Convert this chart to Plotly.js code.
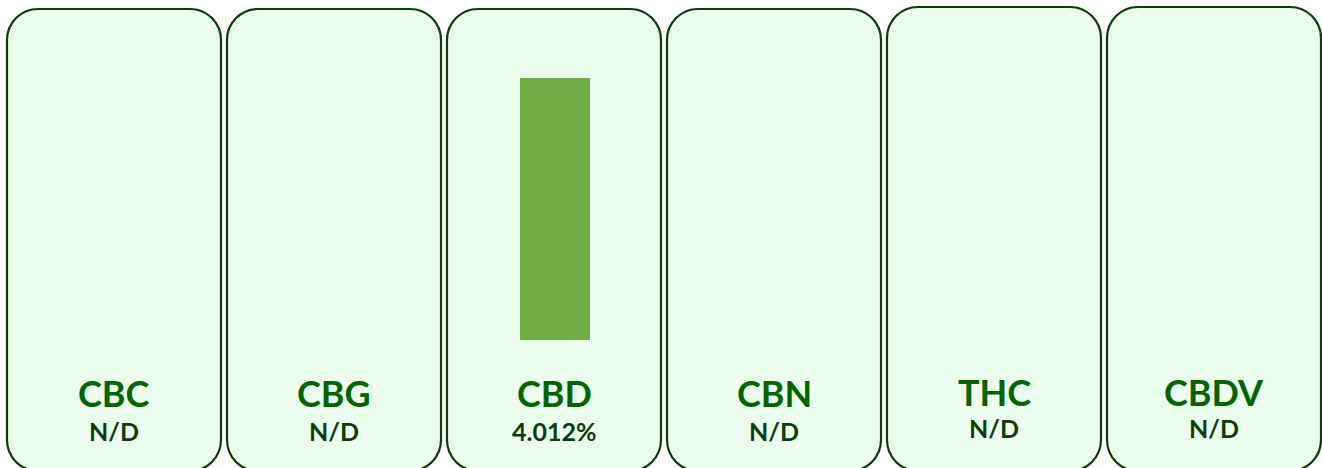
<!DOCTYPE html>
<html>
<head>
<meta charset="utf-8">
<script src="https://cdn.plot.ly/plotly-3.0.1.min.js"></script>
<style>
  html, body { margin: 0; padding: 0; background: #ffffff; }
  #chart { width: 1322px; height: 468px; }
</style>
</head>
<body>
<div id="chart"></div>
<script>
// ---- data ----
const categories = ['CBC', 'CBG', 'CBD', 'CBN', 'THC', 'CBDV'];
const values = [null, null, 4.012, null, null, null];   // percent, null = not detected
const valueLabels = values.map(v => v === null ? 'N/D' : v.toFixed(3) + '%');

// ---- layout constants (pixels) ----
const W = 1322, H = 468;
const panelLeft0 = 7, panelStep = 220, panelWidth = 214;
const panelTops = [9, 9, 9, 9, 7, 7];
const panelBottom = 471;
const radius = 31;

const FONT = 'Lato, "Open Sans", sans-serif';
const border = '#0b3d0b';
const fill = '#ecfdee';

function px(x) { return x / W; }
function py(y) { return 1 - y / H; }

function roundedPath(x0, y0, x1, y1, r) {
  const k = 0.5523 * r;
  const P = (x, y) => px(x).toFixed(5) + ',' + py(y).toFixed(5);
  return 'M' + P(x0 + r, y0) +
    ' L' + P(x1 - r, y0) +
    ' C' + P(x1 - r + k, y0) + ' ' + P(x1, y0 + r - k) + ' ' + P(x1, y0 + r) +
    ' L' + P(x1, y1 - r) +
    ' C' + P(x1, y1 - r + k) + ' ' + P(x1 - r + k, y1) + ' ' + P(x1 - r, y1) +
    ' L' + P(x0 + r, y1) +
    ' C' + P(x0 + r - k, y1) + ' ' + P(x0, y1 - r + k) + ' ' + P(x0, y1 - r) +
    ' L' + P(x0, y0 + r) +
    ' C' + P(x0, y0 + r - k) + ' ' + P(x0 + r - k, y0) + ' ' + P(x0 + r, y0) + ' Z';
}

const shapes = categories.map((c, i) => {
  const x0 = panelLeft0 + panelStep * i;
  return {
    type: 'path', xref: 'paper', yref: 'paper', layer: 'below',
    path: roundedPath(x0, panelTops[i], x0 + panelWidth, panelBottom, radius),
    fillcolor: fill,
    line: { color: border, width: 2.2 }
  };
});

const annotations = [];
categories.forEach((c, i) => {
  const shift = panelTops[i] - 9;
  annotations.push({
    x: c, xref: 'x', y: py(393 + shift * 0.5), yref: 'paper',
    text: '<b>' + c + '</b>', showarrow: false,
    xanchor: 'center', yanchor: 'middle',
    font: { family: FONT, size: 36, color: '#006400' }
  });
  annotations.push({
    x: c, xref: 'x', y: py(431 + shift * 1.5), yref: 'paper',
    text: '<b>' + valueLabels[i] + '</b>', showarrow: false,
    xanchor: 'center', yanchor: 'middle',
    font: { family: FONT, size: 25, color: '#0b3d0b' }
  });
});

// axis scaling: category i centred at 114 + 220*i px; value 0 at y=340 px, 4.012 at y=78 px
const xr0 = -114 / panelStep;
const xr1 = xr0 + W / panelStep;
const pxPerUnit = (340 - 78) / 4.012;
const yr0 = -(H - 340) / pxPerUnit;
const yr1 = 340 / pxPerUnit;

const trace = {
  type: 'bar',
  x: categories,
  y: values,
  width: 70 / panelStep,
  offset: -34 / panelStep,
  marker: { color: '#70ad47', line: { width: 0 } },
  hoverinfo: 'skip'
};

const layout = {
  width: W, height: H,
  margin: { l: 0, r: 0, t: 0, b: 0, pad: 0 },
  paper_bgcolor: '#ffffff',
  plot_bgcolor: 'rgba(0,0,0,0)',
  showlegend: false,
  xaxis: { type: 'category', range: [xr0, xr1], visible: false, fixedrange: true },
  yaxis: { range: [yr0, yr1], visible: false, fixedrange: true, zeroline: false },
  shapes: shapes,
  annotations: annotations
};

Plotly.newPlot('chart', [trace], layout, { displayModeBar: false, staticPlot: true });
</script>
</body>
</html>
